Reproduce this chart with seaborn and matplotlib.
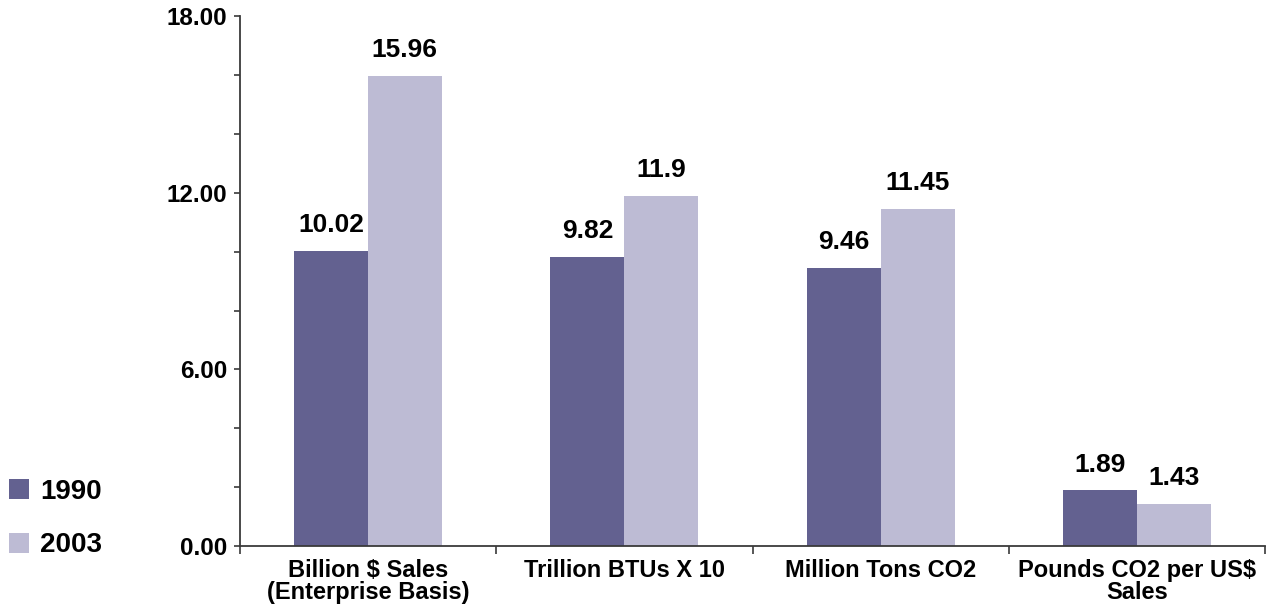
import matplotlib
matplotlib.use("Agg")
import matplotlib.pyplot as plt
from matplotlib.patches import Patch
from matplotlib.ticker import MultipleLocator, FixedLocator
import seaborn as sns
import pandas as pd

categories = ["Billion $ Sales\n(Enterprise Basis)", "Trillion BTUs X 10",
              "Million Tons CO2", "Pounds CO2 per US$\nSales"]
years = ["1990", "2003"]
values_1990 = [10.02, 9.82, 9.46, 1.89]
values_2003 = [15.96, 11.9, 11.45, 1.43]
value_labels_1990 = ["10.02", "9.82", "9.46", "1.89"]
value_labels_2003 = ["15.96", "11.9", "11.45", "1.43"]
colors = ["#636190", "#BDBBD4"]

df = pd.DataFrame({
    "category": categories * 2,
    "year": [years[0]] * 4 + [years[1]] * 4,
    "value": values_1990 + values_2003,
})

sns.set_theme(style="white")
plt.rcParams["font.family"] = ["Liberation Sans", "DejaVu Sans"]
plt.rcParams["font.weight"] = "bold"
plt.rcParams["text.color"] = "black"
plt.rcParams["xtick.labelcolor"] = "black"
plt.rcParams["ytick.labelcolor"] = "black"

fig = plt.figure(figsize=(12.68, 6.15), dpi=100)
ax = fig.add_axes([0.189, 0.112, 0.809, 0.862])

sns.barplot(data=df, x="category", y="value", hue="year", order=categories,
            hue_order=years, palette=colors, width=0.576, saturation=1,
            gap=0, ax=ax, legend=False, linewidth=0)

ax.set_xlim(-0.5, 3.5)
ax.set_ylim(0, 18)
ax.set_xlabel("")
ax.set_ylabel("")

# value labels above each bar
labels_by_year = [value_labels_1990, value_labels_2003]
vals_by_year = [values_1990, values_2003]
for container, labs, vals in zip(ax.containers, labels_by_year, vals_by_year):
    for bar, lab, v in zip(container, labs, vals):
        ax.annotate(lab, (bar.get_x() + bar.get_width() / 2, v),
                    xytext=(0, 10), textcoords="offset points",
                    ha="center", va="bottom", fontsize=19, fontweight="bold",
                    color="black")

# axes styling
for side in ["top", "right"]:
    ax.spines[side].set_visible(False)
for side in ["left", "bottom"]:
    ax.spines[side].set_color("#3a3a3a")
    ax.spines[side].set_linewidth(1.3)

ax.yaxis.set_major_locator(MultipleLocator(6))
ax.yaxis.set_minor_locator(MultipleLocator(2))
ax.set_yticklabels([f"{t:.2f}" for t in ax.get_yticks()])
ax.tick_params(axis="y", which="both", direction="out", length=4, width=1.2,
               color="#3a3a3a", left=True, pad=5, labelsize=17.5,
               labelcolor="black")

ax.xaxis.set_minor_locator(FixedLocator([-0.5, 0.5, 1.5, 2.5, 3.5]))
ax.tick_params(axis="x", which="major", length=0, pad=9, labelsize=17,
               labelcolor="black")
ax.tick_params(axis="x", which="minor", direction="out", length=6, width=1.2,
               color="#3a3a3a", bottom=True)
for lab in ax.get_xticklabels():
    lab.set_fontweight("bold")
    lab.set_linespacing(0.95)
for lab in ax.get_yticklabels():
    lab.set_fontweight("bold")

handles = [Patch(facecolor=c, edgecolor="none") for c in colors]
fig.legend(handles, years, loc="lower left", bbox_to_anchor=(-0.006, 0.065),
           frameon=False, prop={"size": 20, "weight": "bold"},
           handlelength=0.72, handleheight=0.72, handletextpad=0.4,
           labelspacing=1.0, borderaxespad=0.2)

fig.savefig("out.png", dpi=100)
